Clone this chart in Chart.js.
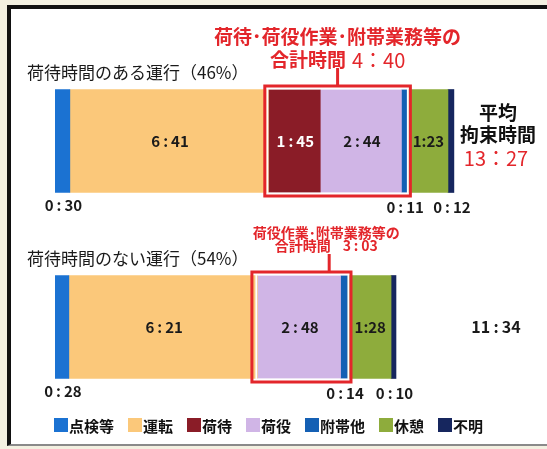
<!DOCTYPE html>
<html>
<head>
<meta charset="utf-8">
<script src="https://cdn.jsdelivr.net/npm/chart.js@4"></script>
<style>
  html, body { margin: 0; padding: 0; width: 547px; height: 449px; overflow: hidden; background: #f3f0e1; }
  #frame { position: absolute; left: 7px; top: 5px; width: 600px; height: 435px;
           background: #fff; border-top: 4px solid #111; border-left: 4px solid #111; border-bottom: 2px solid #8a8a8a; }
  #chart { position: absolute; left: 0; top: 0; }
</style>
</head>
<body>
<div id="frame"></div>
<canvas id="chart" width="547" height="449"></canvas>
<script>
// minutes per activity, one value per trip type
const categories = ['荷待時間のある運行（46%）', '荷待時間のない運行（54%）'];
const seriesNames = ['点検等', '運転', '荷待', '荷役', '附帯他', '休憩', '不明'];
const inspection = [30, 28];
const driving = [401, 381];
const waiting = [105, 0];
const handling = [164, 168];
const incidental = [11, 14];
const rest = [83, 88];
const unknown = [12, 10];
const totals = [807, 694];
const groupTotals = [280, 183];
const groupTitles = ['荷待･荷役作業･附帯業務等の', '荷役作業･附帯業務等の'];

const colors = ['#1b72d2', '#fbc87a', '#8a1c27', '#d0b5e6', '#1460b4', '#8eac3c', '#16265e'];
const FONT = '"Noto Sans CJK JP", "Noto Sans", sans-serif';
const RED = '#e3262b';
const SEP = '\u2009:\u2009';

const fmt = (m, sep) => Math.floor(m / 60) + sep + String(m % 60).padStart(2, '0');

const labelsPlugin = {
    id: 'labels',
    afterDatasetsDraw(chart) {
        const ctx = chart.ctx;
        ctx.save();
        ctx.textBaseline = 'middle';
        ctx.textAlign = 'center';

        // values on / under the segments
        chart.data.datasets.forEach((ds, i) => {
            const meta = chart.getDatasetMeta(i);
            meta.data.forEach((el, j) => {
                const v = ds.data[j];
                if (!v) return;
                const p = el.getProps(['x', 'y', 'base', 'height'], true);
                const cx = (p.x + p.base) / 2;
                ctx.font = 'bold 15px ' + FONT;
                if (ds.below) {
                    ctx.fillStyle = '#1a1a1a';
                    ctx.fillText(fmt(v, SEP), cx + 1, p.y + p.height / 2 + (i === 0 ? 13 : 15));
                } else {
                    ctx.fillStyle = ds.textColor;
                    ctx.fillText(fmt(v, i === 5 ? ':' : SEP), cx + 1, p.y);
                }
            });
        });

        // trip type titles
        const first = chart.getDatasetMeta(0).data;
        ctx.textAlign = 'left';
        ctx.font = '17px ' + FONT;
        ctx.fillStyle = '#1a1a1a';
        first.forEach((el, j) => {
            const p = el.getProps(['y', 'height'], true);
            ctx.fillText(chart.data.labels[j], 27, p.y - p.height / 2 - 17);
        });

        // red boxes round 荷待 + 荷役 + 附帯他
        const group = [2, 3, 4];
        const shift = [0.5, 0.78];
        const tops = [68, 254];
        first.forEach((el0, j) => {
            let L = Infinity, R = -Infinity, top = 0, bot = 0;
            group.forEach(i => {
                if (!chart.data.datasets[i].data[j]) return;
                const p = chart.getDatasetMeta(i).data[j].getProps(['x', 'base', 'y', 'height'], true);
                L = Math.min(L, p.base);
                R = Math.max(R, p.x);
                top = p.y - p.height / 2;
                bot = p.y + p.height / 2;
            });
            const padL = j === 0 ? 3.5 : 5.5;
            ctx.strokeStyle = '#fff';
            ctx.lineWidth = 2;
            ctx.strokeRect(L - 1, top - 1, R - L + 2, bot - top + 2);
            ctx.strokeStyle = RED;
            ctx.lineWidth = 3;
            ctx.strokeRect(L - padL, top - 3.5, R - L + padL + 3.5, bot - top + 7);

            const bx = L - padL + (R - L + padL + 3.5) * shift[j];
            ctx.beginPath();
            ctx.moveTo(bx, top - 3.5);
            ctx.lineTo(bx, tops[j]);
            ctx.stroke();

            const big = j === 0;
            const fs = big ? 19 : 14;
            const y1 = big ? 37 : 233;
            const y2 = big ? 60 : 246;
            const cx = big ? bx : bx - 3;
            ctx.fillStyle = RED;
            ctx.textAlign = 'center';
            ctx.font = 'bold ' + fs + 'px ' + FONT;
            ctx.fillText(groupTitles[j], cx, y1);

            const a = '合計時間';
            const b = fmt(groupTotals[j], big ? '：' : SEP);
            const gap = big ? 6 : 12;
            ctx.font = 'bold ' + fs + 'px ' + FONT;
            const wa = ctx.measureText(a).width;
            const fb = big ? '20px ' + FONT : 'bold 14px ' + FONT;
            ctx.font = fb;
            const wb = ctx.measureText(b).width;
            let sx = cx - (wa + gap + wb) / 2;
            ctx.textAlign = 'left';
            ctx.font = 'bold ' + fs + 'px ' + FONT;
            ctx.fillText(a, sx, y2);
            ctx.font = fb;
            ctx.fillText(b, sx + wa + gap, y2);
        });

        // average total working time
        ctx.textAlign = 'center';
        ctx.fillStyle = '#111';
        ctx.font = 'bold 19px ' + FONT;
        const p0 = first[0].getProps(['y'], true);
        const p1 = first[1].getProps(['y'], true);
        ctx.fillText('平均', 498, p0.y - 28);
        ctx.fillText('拘束時間', 498, p0.y - 6);
        ctx.fillStyle = RED;
        ctx.font = '20px ' + FONT;
        ctx.fillText(fmt(totals[0], '：'), 496, p0.y + 17);
        ctx.fillStyle = '#1a1a1a';
        ctx.font = 'bold 16px ' + FONT;
        ctx.fillText(fmt(totals[1], SEP), 496, p1.y);

        // legend
        let lx = 54;
        const ly = 425;
        ctx.textAlign = 'left';
        ctx.font = 'bold 15px ' + FONT;
        chart.data.datasets.forEach(ds => {
            ctx.fillStyle = ds.backgroundColor;
            ctx.fillRect(lx, ly - 7, 14, 14);
            ctx.fillStyle = '#111';
            ctx.fillText(ds.label, lx + 15, ly + 1);
            lx += 15 + ctx.measureText(ds.label).width + 14;
        });
        ctx.restore();
    }
};

const seriesData = [inspection, driving, waiting, handling, incidental, rest, unknown];
const belowSeries = [true, false, false, false, true, false, true];

new Chart('chart', {
    type: 'bar',
    data: {
        labels: categories,
        datasets: seriesNames.map((name, i) => ({
            label: name,
            data: seriesData[i],
            backgroundColor: colors[i],
            borderWidth: 0,
            barThickness: 103,
            below: belowSeries[i],
            textColor: i === 2 ? '#ffffff' : '#1a1a1a'
        }))
    },
    options: {
        indexAxis: 'y',
        responsive: false,
        animation: false,
        layout: { padding: { left: 55, right: 7, top: 48, bottom: 29 } },
        scales: {
            x: { stacked: true, display: false, min: 0, max: 980 },
            y: { stacked: true, display: false }
        },
        plugins: {
            legend: { display: false },
            tooltip: { enabled: false }
        }
    },
    plugins: [labelsPlugin]
});
</script>
</body>
</html>
